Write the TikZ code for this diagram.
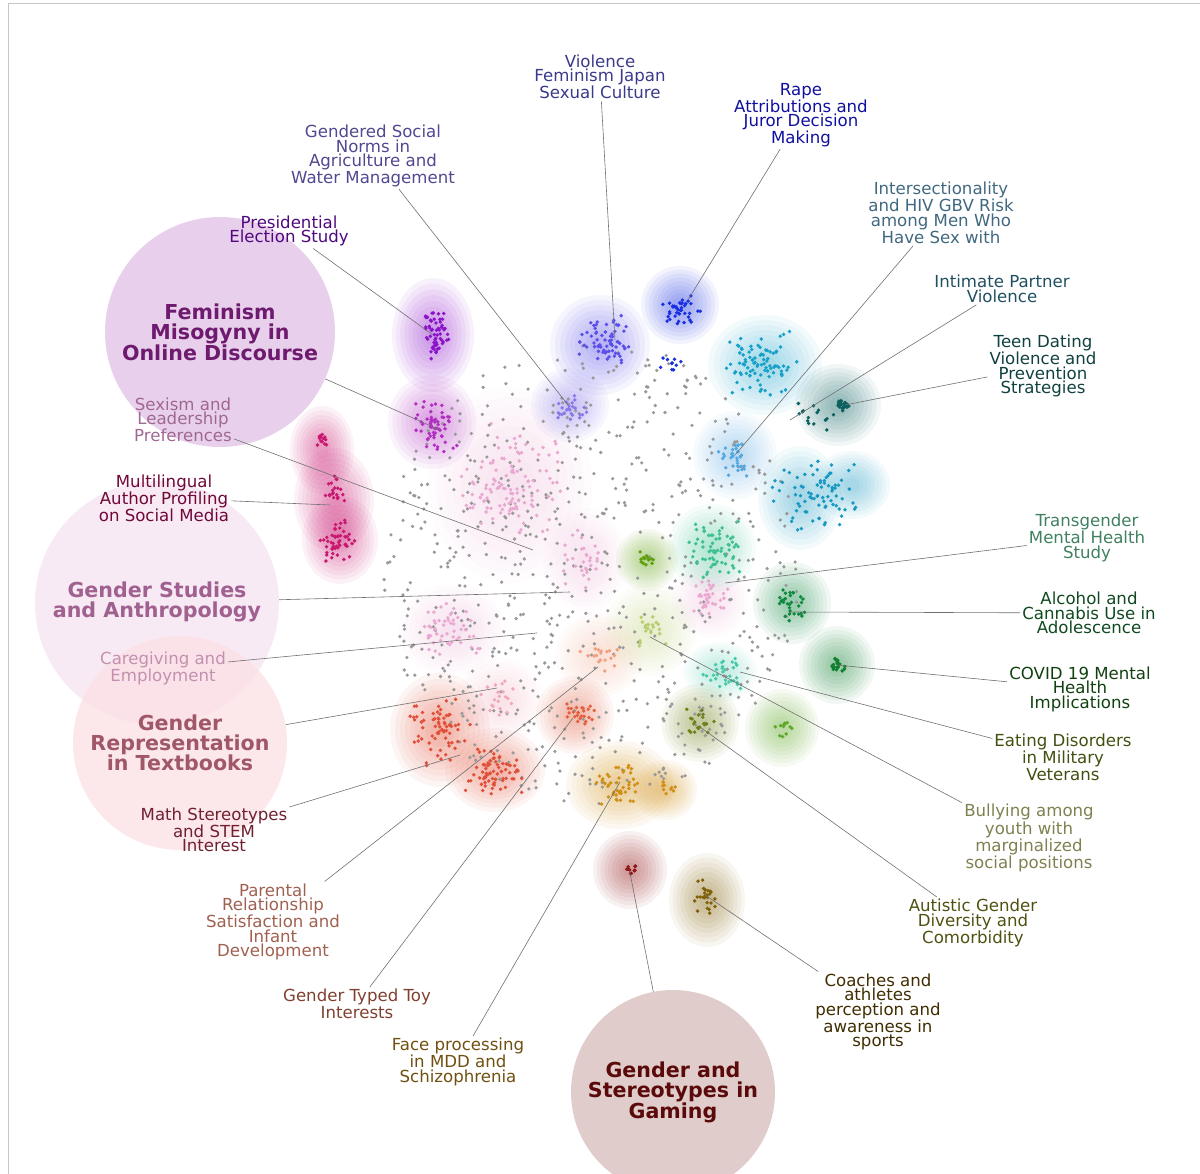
\documentclass[tikz,border=0pt]{standalone}
\usepackage{fontspec}
\setmainfont{DejaVu Sans}
\usetikzlibrary{positioning}
\definecolor{dotgray}{HTML}{999999}
\definecolor{leadgray}{HTML}{707070}
\definecolor{cPres}{HTML}{8A14C8}
\definecolor{cMag}{HTML}{B030C0}
\definecolor{cCrim}{HTML}{C81870}
\definecolor{cViol}{HTML}{5A50E8}
\definecolor{cRape}{HTML}{1A30E0}
\definecolor{cLav}{HTML}{8878E8}
\definecolor{cCyan}{HTML}{18A0C8}
\definecolor{cTeal}{HTML}{0D6060}
\definecolor{cLblue}{HTML}{58A8E0}
\definecolor{cCyan2}{HTML}{1898C0}
\definecolor{cMint}{HTML}{40C090}
\definecolor{cYgreen}{HTML}{60A010}
\definecolor{cGreen}{HTML}{108840}
\definecolor{cCovid}{HTML}{108030}
\definecolor{cMint2}{HTML}{48C8A8}
\definecolor{cOlive}{HTML}{708018}
\definecolor{cGreen2}{HTML}{60A828}
\definecolor{cPaley}{HTML}{B8CC70}
\definecolor{cPink}{HTML}{E8A8D0}
\definecolor{cPink2}{HTML}{F0A8B8}
\definecolor{cRed}{HTML}{E05038}
\definecolor{cOrange}{HTML}{E06040}
\definecolor{cSalmon}{HTML}{F0A080}
\definecolor{cGold}{HTML}{D09018}
\definecolor{cDred}{HTML}{901818}
\definecolor{cBrown}{HTML}{806008}
\definecolor{fFem}{HTML}{E8D0EC}
\definecolor{fStud}{HTML}{F8EAF4}
\definecolor{fRep}{HTML}{FBE0E4}
\definecolor{fGame}{HTML}{E0CCCA}
\definecolor{tFem}{HTML}{6E1A6E}
\definecolor{tStud}{HTML}{A06090}
\definecolor{tRep}{HTML}{A05868}
\definecolor{tGame}{HTML}{5A0A0A}
\tikzstyle{topic} = [align=center, inner sep=2pt, font={\fontsize{16.6}{14.5}\selectfont}]
\tikzstyle{theme} = [align=center, inner sep=0pt, font={\bfseries\fontsize{20.6}{20}\selectfont}]
\tikzstyle{bubble} = [circle, inner sep=0pt, draw=none]
\tikzstyle{leader} = [draw=leadgray, line width=0.6pt]
% density blob: [opacity]{x}{y}{rx}{ry}{colour}
\newcommand{\kdeb}[6][0.06]{%
  \foreach \s in {1.0,0.9,0.8,0.7,0.6,0.5,0.4,0.3,0.2}{
    \fill[#6, fill opacity=#1] (#2,#3) ellipse [x radius={\s*#4*1pt}, y radius={\s*#5*1pt}];
  }}
% scattered points: {x}{y}{sx}{sy}{colour}{n}
\newcommand{\spots}[6]{%
  \foreach \k in {1,...,#6}{
    \fill[#5] ({#1+#3*(rand+rand)/2},{#2+#4*(rand+rand)/2}) circle[radius=1.9pt];
  }}
\begin{document}
\begin{tikzpicture}[x=1pt, y=-1pt]
    \useasboundingbox (0,0) rectangle (1200,1174);
    \clip (0,0) rectangle (1200,1174);
    \pgfmathsetseed{7}
    \draw[gray!45] (8,1174) -- (8,3) -- (1200,3);

    % theme bubbles
    \node[bubble, fill=fFem, minimum size=230pt] (cFem) at (220,332) {};
    \node[bubble, fill=fStud, minimum size=244pt] (cStud) at (157,603) {};
    \node[bubble, fill=fRep, fill opacity=0.75, minimum size=214pt] (cRep) at (180,743) {};
    \node[bubble, fill=fGame, minimum size=204pt] (cGame) at (673,1092) {};

    % density blobs
    \kdeb[0.04]{510}{485}{82}{98}{cPink}
    \kdeb[0.04]{585}{560}{42}{52}{cPink}
    \kdeb[0.04]{452}{630}{54}{46}{cPink}
    \kdeb[0.04]{710}{600}{38}{38}{cPink}
    \kdeb[0.04]{500}{700}{44}{42}{cPink2}
    \kdeb[0.04]{600}{655}{44}{42}{cSalmon}
    \kdeb[0.045]{650}{630}{46}{46}{cPaley}
    \kdeb{433}{335}{41}{57}{cPres}
    \kdeb{432}{422}{44}{47}{cMag}
    \kdeb{322}{450}{32}{44}{cCrim}
    \kdeb{334}{500}{40}{52}{cCrim}
    \kdeb{340}{540}{38}{44}{cCrim}
    \kdeb{600}{345}{50}{50}{cViol}
    \kdeb{680}{305}{39}{39}{cRape}
    \kdeb{570}{405}{39}{37}{cLav}
    \kdeb[0.05]{765}{365}{57}{50}{cCyan}
    \kdeb{838}{405}{43}{41}{cTeal}
    \kdeb[0.05]{735}{455}{42}{44}{cLblue}
    \kdeb[0.05]{800}{498}{42}{52}{cCyan2}
    \kdeb[0.05]{852}{485}{38}{34}{cCyan2}
    \kdeb[0.05]{712}{548}{44}{44}{cMint}
    \kdeb{647}{560}{31}{31}{cYgreen}
    \kdeb{792}{603}{39}{41}{cGreen}
    \kdeb{837}{665}{38}{39}{cCovid}
    \kdeb[0.045]{720}{672}{37}{30}{cMint2}
    \kdeb{700}{723}{39}{39}{cOlive}
    \kdeb{782}{728}{37}{39}{cGreen2}
    \kdeb{440}{730}{50}{57}{cRed}
    \kdeb{495}{770}{50}{42}{cRed}
    \kdeb{575}{715}{39}{39}{cOrange}
    \kdeb{620}{785}{54}{44}{cGold}
    \kdeb{665}{790}{32}{30}{cGold}
    \kdeb{630}{870}{37}{39}{cDred}
    \kdeb{707}{900}{38}{47}{cBrown}

    % unassigned documents
    \foreach \k in {1,...,720}{
      \pgfmathsetmacro{\ang}{360*rnd}
      \pgfmathsetmacro{\rad}{sqrt(rnd)}
      \fill[dotgray] ({592+208*\rad*cos(\ang)},{572+232*\rad*sin(\ang)}) circle[radius=1.8pt];
    }

    % topic documents
    \spots{510}{485}{55}{65}{cPink}{120}
    \spots{585}{560}{25}{35}{cPink}{30}
    \spots{452}{630}{35}{30}{cPink}{55}
    \spots{710}{600}{22}{22}{cPink}{35}
    \spots{500}{700}{25}{25}{cPink2}{20}
    \spots{600}{655}{22}{20}{cSalmon}{18}
    \spots{650}{628}{18}{22}{cPaley}{22}
    \spots{436}{335}{14}{26}{cPres}{60}
    \spots{435}{425}{25}{28}{cMag}{60}
    \spots{321}{440}{8}{8}{cCrim}{15}
    \spots{335}{490}{12}{15}{cCrim}{20}
    \spots{338}{540}{20}{25}{cCrim}{50}
    \spots{603}{343}{30}{30}{cViol}{70}
    \spots{682}{310}{20}{18}{cRape}{40}
    \spots{672}{365}{15}{8}{cRape}{10}
    \spots{570}{410}{20}{18}{cLav}{25}
    \spots{760}{365}{38}{35}{cCyan}{90}
    \spots{843}{405}{8}{7}{cTeal}{30}
    \spots{810}{415}{25}{18}{cTeal}{15}
    \spots{735}{458}{20}{22}{cLblue}{35}
    \spots{815}{495}{45}{40}{cCyan2}{80}
    \spots{713}{548}{30}{30}{cMint}{70}
    \spots{648}{560}{12}{10}{cYgreen}{15}
    \spots{792}{603}{15}{20}{cGreen}{30}
    \spots{838}{665}{8}{8}{cCovid}{20}
    \spots{722}{672}{25}{20}{cMint2}{30}
    \spots{700}{722}{15}{15}{cOlive}{20}
    \spots{783}{728}{10}{10}{cGreen2}{12}
    \spots{440}{730}{35}{40}{cRed}{70}
    \spots{495}{772}{35}{25}{cRed}{70}
    \spots{578}{712}{18}{15}{cOrange}{25}
    \spots{618}{785}{25}{22}{cGold}{45}
    \spots{668}{787}{10}{8}{cGold}{10}
    \spots{630}{870}{6}{6}{cDred}{12}
    \spots{705}{897}{14}{22}{cBrown}{25}

    % anchor points of the leaders
    \coordinate (pViol) at (615,340);
    \coordinate (pRape) at (688,300);
    \coordinate (pNorms) at (568,405);
    \coordinate (pPres) at (433,335);
    \coordinate (pFem) at (440,430);
    \coordinate (pSexism) at (533,550);
    \coordinate (pMulti) at (330,505);
    \coordinate (pStud) at (570,592);
    \coordinate (pCare) at (537,633);
    \coordinate (pRep) at (497,688);
    \coordinate (pMath) at (460,755);
    \coordinate (pParent) at (598,667);
    \coordinate (pToy) at (573,718);
    \coordinate (pFace) at (620,782);
    \coordinate (pGame) at (630,873);
    \coordinate (pCoach) at (705,895);
    \coordinate (pAutism) at (700,727);
    \coordinate (pBully) at (650,637);
    \coordinate (pEating) at (740,672);
    \coordinate (pCovid) at (837,665);
    \coordinate (pAlcohol) at (790,612);
    \coordinate (pTrans) at (725,583);
    \coordinate (pTeen) at (845,405);
    \coordinate (pIPV) at (790,420);
    \coordinate (pInter) at (735,455);

    % topic labels
    \node[topic, text={rgb,255:red,58;green,58;blue,138}] (lViol) at (600,77) {Violence\\Feminism Japan\\Sexual Culture};
    \node[topic, text={rgb,255:red,16;green,16;blue,160}] (lRape) at (801,115) {Rape\\Attributions and\\Juror Decision\\Making};
    \node[topic, text={rgb,255:red,80;green,72;blue,144}] (lNorms) at (373,156) {Gendered Social\\Norms in\\Agriculture and\\Water Management};
    \node[topic, text={rgb,255:red,80;green,8;blue,128}] (lPres) at (289,231) {Presidential\\Election Study};
    \node[topic, text={rgb,255:red,160;green,104;blue,144}] (lSexism) at (183,420) {Sexism and\\Leadership\\Preferences};
    \node[topic, text={rgb,255:red,112;green,8;blue,56}] (lMulti) at (164,498) {Multilingual\\Author Profiling\\on Social Media};
    \node[topic, text={rgb,255:red,196;green,144;blue,176}] (lCare) at (163,668) {Caregiving and\\Employment};
    \node[topic, text={rgb,255:red,112;green,32;blue,48}] (lMath) at (214,830) {Math Stereotypes\\and STEM\\Interest};
    \node[topic, text={rgb,255:red,160;green,96;blue,80}] (lParent) at (273,922) {Parental\\Relationship\\Satisfaction and\\Infant\\Development};
    \node[topic, text={rgb,255:red,128;green,64;blue,48}] (lToy) at (357,1004) {Gender Typed Toy\\Interests};
    \node[topic, text={rgb,255:red,112;green,80;blue,16}] (lFace) at (458,1062) {Face processing\\in MDD and\\Schizophrenia};
    \node[topic, text={rgb,255:red,64;green,44;blue,0}] (lCoach) at (878,1012) {Coaches and\\athletes\\perception and\\awareness in\\sports};
    \node[topic, text={rgb,255:red,80;green,80;blue,16}] (lAutism) at (973,923) {Autistic Gender\\Diversity and\\Comorbidity};
    \node[topic, text={rgb,255:red,128;green,128;blue,80}] (lBully) at (1029,838) {Bullying among\\youth with\\marginalized\\social positions};
    \node[topic, text={rgb,255:red,64;green,80;blue,16}] (lEating) at (1063,757) {Eating Disorders\\in Military\\Veterans};
    \node[topic, text={rgb,255:red,16;green,64;blue,16}] (lCovid) at (1080,689) {COVID 19 Mental\\Health\\Implications};
    \node[topic, text={rgb,255:red,16;green,72;blue,32}] (lAlcohol) at (1089,613) {Alcohol and\\Cannabis Use in\\Adolescence};
    \node[topic, text={rgb,255:red,64;green,128;blue,96}] (lTrans) at (1087,538) {Transgender\\Mental Health\\Study};
    \node[topic, text={rgb,255:red,16;green,64;blue,64}] (lTeen) at (1043,366) {Teen Dating\\Violence and\\Prevention\\Strategies};
    \node[topic, text={rgb,255:red,32;green,80;blue,96}] (lIPV) at (1002,289) {Intimate Partner\\Violence};
    \node[topic, text={rgb,255:red,64;green,104;blue,128}] (lInter) at (941,213) {Intersectionality\\and HIV GBV Risk\\among Men Who\\Have Sex with};

    % theme labels
    \node[theme, text=tFem] at (cFem) {Feminism\\Misogyny in\\Online Discourse};
    \node[theme, text=tStud] at ([yshift=1pt]cStud) {Gender Studies\\and Anthropology};
    \node[theme, text=tRep] at (cRep) {Gender\\Representation\\in Textbooks};
    \node[theme, text=tGame] at (cGame) {Gender and\\Stereotypes in\\Gaming};

    % leaders
    \draw[leader] (lViol) -- (pViol);
    \draw[leader] (lRape) -- (pRape);
    \draw[leader] (lNorms) -- (pNorms);
    \draw[leader] (lPres) -- (pPres);
    \draw[leader] (cFem) -- (pFem);
    \draw[leader] (lSexism) -- (pSexism);
    \draw[leader] (lMulti) -- (pMulti);
    \draw[leader] (cStud) -- (pStud);
    \draw[leader] (lCare) -- (pCare);
    \draw[leader] (cRep) -- (pRep);
    \draw[leader] (lMath) -- (pMath);
    \draw[leader] (lParent) -- (pParent);
    \draw[leader] (lToy) -- (pToy);
    \draw[leader] (lFace) -- (pFace);
    \draw[leader] (cGame) -- (pGame);
    \draw[leader] (lCoach) -- (pCoach);
    \draw[leader] (lAutism) -- (pAutism);
    \draw[leader] (lBully) -- (pBully);
    \draw[leader] (lEating) -- (pEating);
    \draw[leader] (lCovid) -- (pCovid);
    \draw[leader] (lAlcohol) -- (pAlcohol);
    \draw[leader] (lTrans) -- (pTrans);
    \draw[leader] (lTeen) -- (pTeen);
    \draw[leader] (lIPV) -- (pIPV);
    \draw[leader] (lInter) -- (pInter);
\end{tikzpicture}
\end{document}
